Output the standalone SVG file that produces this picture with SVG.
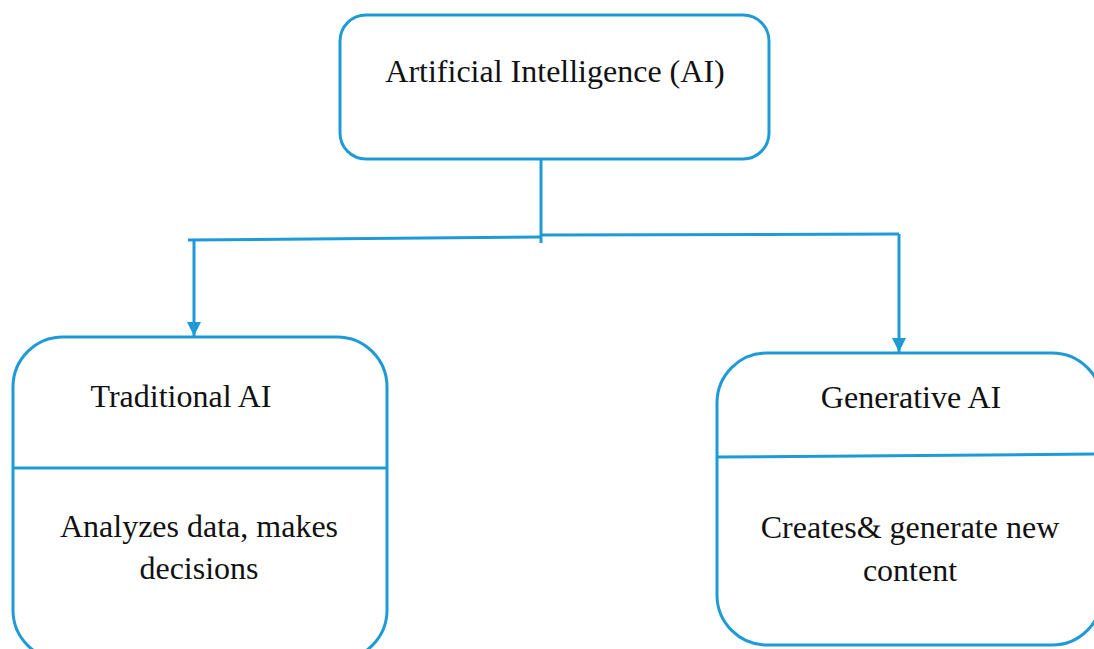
<svg xmlns="http://www.w3.org/2000/svg" width="1094" height="649" viewBox="0 0 1094 649">
<style>
.box{fill:#ffffff;stroke:#1e9bd7;stroke-width:3}
.ln{fill:none;stroke:#1e9bd7;stroke-width:3}
.t{font-family:'Liberation Serif','Times New Roman',Times,'DejaVu Serif',serif;font-size:32px;fill:#111111;text-anchor:middle}
</style>
<defs>
<marker id="arrd" markerUnits="userSpaceOnUse" markerWidth="16" markerHeight="18" refX="16" refY="8" orient="auto" viewBox="0 0 18 16">
<path d="M0,0 L16,8 L0,16 Z" fill="#1e9bd7"/>
</marker>
</defs>
<rect width="1094" height="649" fill="#ffffff"/>
<g id="connectors">
<path class="ln" d="M541,159 L541,243"/>
<path class="ln" d="M188,240 L541,237"/>
<path class="ln" d="M541,235 L899,234"/>
<path class="ln" d="M194,240 L194,336" marker-end="url(#arrd)"/>
<path class="ln" d="M899,234 L899,352" marker-end="url(#arrd)"/>
</g>
<g id="node-ai">
<rect class="box" x="340" y="15" width="429" height="144" rx="26"/>
<text class="t" x="555" y="82" font-family="Liberation Serif">Artificial Intelligence (AI)</text>
</g>
<g id="node-traditional">
<rect class="box" x="13" y="337" width="374" height="323" rx="50"/>
<line class="ln" x1="13" y1="468" x2="388" y2="468"/>
<text class="t" x="181" y="407">Traditional AI</text>
<text class="t" x="199" y="537">Analyzes data, makes</text>
<text class="t" x="199" y="579">decisions</text>
</g>
<g id="node-generative">
<rect class="box" x="717" y="353" width="385" height="292" rx="50"/>
<line class="ln" x1="717" y1="457" x2="1102" y2="454"/>
<text class="t" x="911" y="408">Generative AI</text>
<text class="t" x="910" y="538">Creates&amp; generate new</text>
<text class="t" x="910" y="581">content</text>
</g>
</svg>
